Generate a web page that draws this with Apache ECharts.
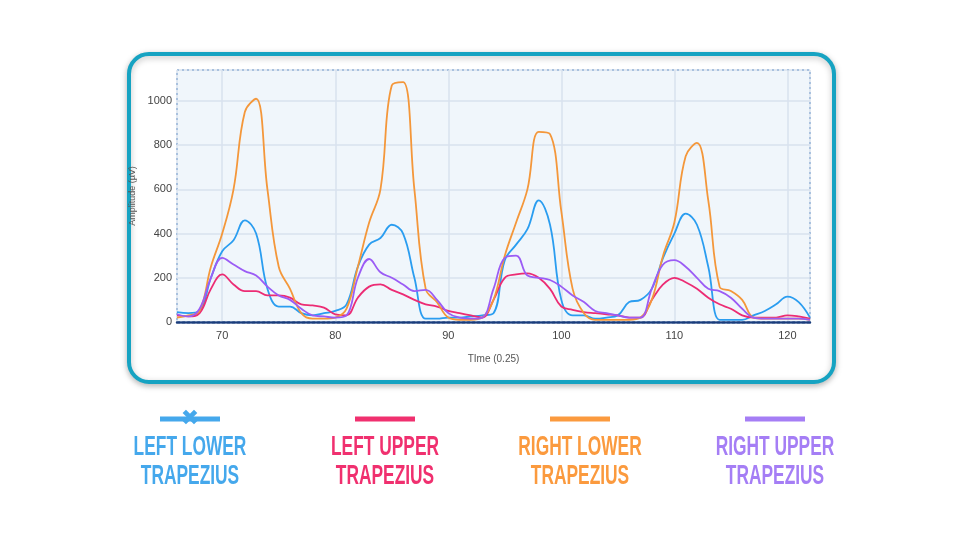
<!DOCTYPE html>
<html><head><meta charset="utf-8">
<script src="https://cdn.jsdelivr.net/npm/echarts@6/dist/echarts.min.js"></script>
<style>html,body{margin:0;padding:0;background:#fff}#c{width:960px;height:540px}</style>
</head><body><div id="c"></div>
<script>
const times = [];
for (let t = 66; t <= 122; t++) times.push(t);
const leftLower = [45,40,50,200,320,370,460,400,150,70,70,40,30,40,50,80,250,350,380,440,400,200,15,15,20,20,25,30,40,280,350,420,550,440,100,30,30,15,20,30,90,100,150,290,400,490,440,250,10,10,10,30,50,80,115,90,20];
const leftUpper = [30,25,40,150,215,170,140,140,120,120,110,80,75,65,35,30,110,160,170,145,125,100,80,70,50,40,30,20,100,200,215,220,200,150,70,55,45,40,35,30,20,20,100,170,200,180,150,110,80,60,30,20,20,20,30,25,15];
const rightLower = [20,30,50,250,400,600,950,1010,600,250,150,40,15,15,20,60,250,450,600,1070,1085,600,150,90,20,10,10,20,100,300,450,600,860,850,500,150,40,10,10,10,10,20,100,300,450,750,810,550,160,140,100,20,15,15,15,15,10];
const rightUpper = [35,25,60,200,290,260,230,210,160,120,100,60,30,25,20,30,200,285,225,200,170,140,145,100,40,20,15,20,150,290,300,210,200,190,160,120,90,50,40,30,20,20,150,260,280,250,200,150,140,110,60,20,15,15,15,15,10];
const seriesNames = ['LEFT LOWER\nTRAPEZIUS','LEFT UPPER\nTRAPEZIUS','RIGHT LOWER\nTRAPEZIUS','RIGHT UPPER\nTRAPEZIUS'];
const colors = ['#2a9df0','#ec2c74','#f4973a','#9b5cf5'];
const legendColors = ['#45a8ec','#f0306f','#fb9a3e','#a57ef5'];
const allData = [leftLower, leftUpper, rightLower, rightUpper];

const chart = echarts.init(document.getElementById('c'));
const graphics = [{
  type:'rect', z:-10, shape:{x:129,y:54,width:705,height:328,r:20},
  style:{fill:'#fff',stroke:'#16a3c2',lineWidth:4,shadowBlur:6,shadowColor:'rgba(0,0,0,0.25)',shadowOffsetY:2}
}];
const cx = [190,385,580,775];
cx.forEach((x,i)=>{
  graphics.push({type:'line',shape:{x1:x-30,y1:419,x2:x+30,y2:419},style:{stroke:legendColors[i],lineWidth:5}});
  if(i===0){
    graphics.push({type:'text',x:x,y:419,style:{text:'✖',font:'bold 22px DejaVu Sans',fill:legendColors[i],align:'center',verticalAlign:'middle'}});
  }
  graphics.push({type:'text',x:x,y:433,scaleX:0.62,scaleY:1,style:{text:seriesNames[i],font:'bold 28px "Liberation Sans"',fill:legendColors[i],align:'center',verticalAlign:'top',lineHeight:29}});
});

chart.setOption({
  animation:false,
  graphic: graphics,
  grid:{left:177,right:150,top:70,bottom:218,show:true,backgroundColor:'#f0f6fb',borderColor:'#1f5fb0',borderWidth:2,borderType:[2,3]},
  xAxis:{type:'value',min:66,max:122,splitNumber:6,
    name:'TIme (0.25)',nameLocation:'middle',nameGap:32,nameTextStyle:{color:'#555',fontSize:10},
    axisLine:{show:true,lineStyle:{color:'#1a3d7c',width:2.5,type:[3,2]}},axisTick:{show:false},
    axisLabel:{color:'#444',fontSize:11,showMinLabel:false,showMaxLabel:false},
    splitLine:{lineStyle:{color:'#d8e2ee',width:1.5}}},
  yAxis:{type:'value',min:0,max:1140,interval:200,
    name:'Amplitude (µV)',nameLocation:'middle',nameGap:34,nameTextStyle:{color:'#555',fontSize:9},
    axisLine:{show:false},axisTick:{show:false},
    axisLabel:{color:'#444',fontSize:11,showMaxLabel:false,margin:5,formatter:v=>String(v)},
    splitLine:{lineStyle:{color:'#d8e2ee',width:1.5}}},
  series: allData.map((d,i)=>({type:'line',name:seriesNames[i],smooth:0.4,showSymbol:false,
    data: times.map((t,j)=>[t,d[j]]),lineStyle:{color:colors[i],width:1.8},itemStyle:{color:colors[i]}}))
});
</script></body></html>
